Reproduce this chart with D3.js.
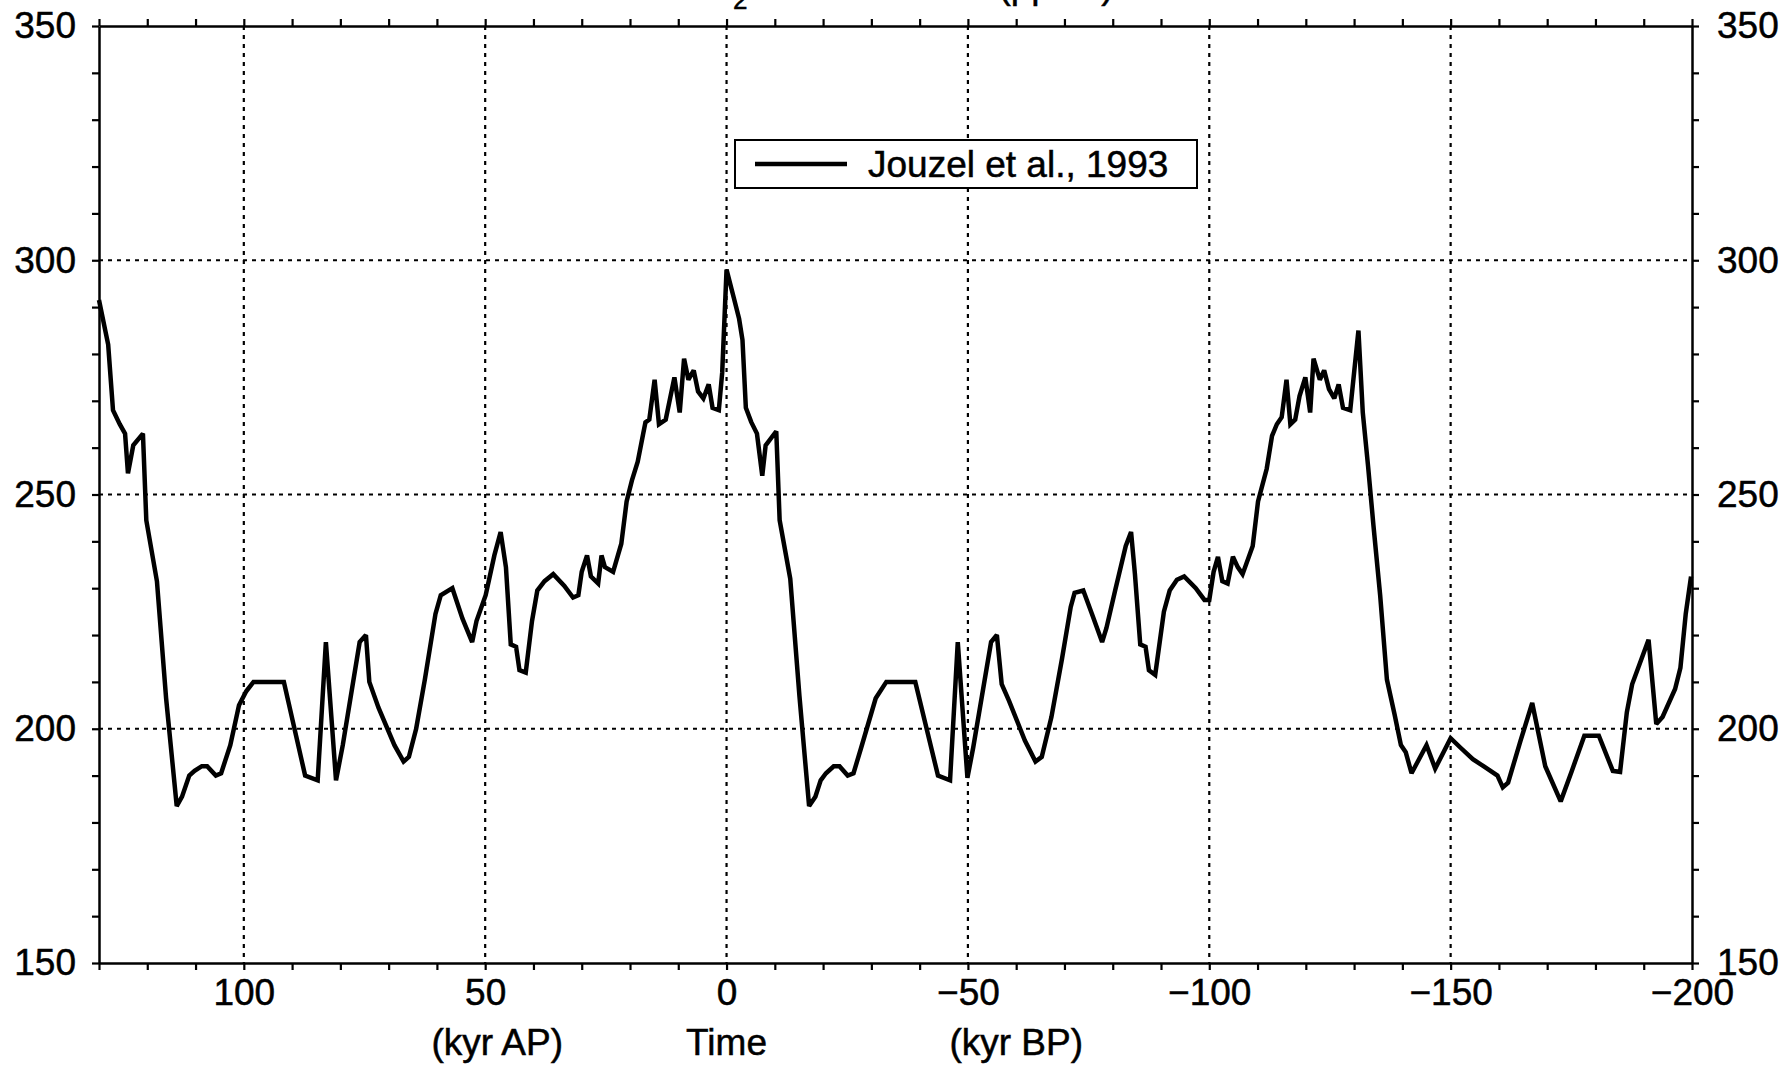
<!DOCTYPE html>
<html>
<head>
<meta charset="utf-8">
<script src="https://cdn.jsdelivr.net/npm/d3@7"></script>
<style>
  body { margin: 0; background: #fff; }
  text { font-family: "Liberation Sans", Arial, Helvetica, sans-serif; fill: #000; stroke: #000; stroke-width: 0.5px; }
</style>
</head>
<body>
<div id="d3-container"></div>
<script>
// time in kyr (positive = after present, negative = before present)
const timeKyr = [
  130, 128.1, 127.1, 125.7, 124.6, 124.0, 122.9, 120.9, 120.2, 118.0,
  116.1, 113.9, 112.8, 111.3, 110.2, 108.7, 107.6, 105.8, 104.7, 102.8,
  101.0, 99.5, 98.0, 91.7, 87.3, 84.7, 83.0, 80.9, 79.5, 76.0,
  74.7, 74.0, 72.1, 68.8, 66.9, 65.8, 64.3, 62.5, 60.3, 59.2,
  56.8, 54.7, 52.7, 51.8, 49.9, 48.1, 46.8, 45.7, 44.7, 43.6,
  42.9, 41.6, 40.3, 39.2, 37.7, 35.9, 33.6, 31.8, 30.7, 30.0,
  28.9, 28.1, 26.6, 25.9, 25.2, 23.5, 21.8, 20.7, 19.6, 18.4,
  17.3, 16.8, 16.0, 14.9, 14.0, 12.6, 10.8, 9.7, 8.8, 7.9,
  6.8, 5.9, 4.8, 3.7, 2.9, 1.6, 0.9, 0, -1.5, -2.6,
  -3.3, -4.0, -5.1, -6.3, -7.4, -8.1, -10.3, -11.0, -13.2, -15.1,
  -17.1, -18.4, -19.5, -20.6, -22.2, -23.4, -25.1, -26.3, -27.9, -30.9,
  -33.1, -39.1, -43.8, -46.3, -47.9, -49.9, -51.1, -54.8, -56.0, -57.0,
  -58.5, -61.8, -64.0, -65.3, -67.3, -69.5, -71.3, -72.1, -73.9, -75.7,
  -77.8, -78.7, -80.5, -82.7, -83.8, -84.6, -85.7, -86.8, -87.5, -88.8,
  -90.6, -91.8, -93.3, -94.8, -97.2, -99.0, -100.0, -100.9, -101.8, -102.7,
  -103.8, -104.9, -105.9, -106.9, -109.0, -110.1, -111.9, -113.0, -114.0, -115.0,
  -116.0, -116.8, -117.8, -118.7, -119.9, -120.9, -121.6, -122.9, -123.8, -124.8,
  -125.9, -126.8, -127.7, -129.2, -130.9, -131.8, -132.9, -134.0, -135.4, -136.8,
  -138.4, -139.7, -140.7, -141.9, -143.2, -145.0, -146.8, -150.0, -152.0, -154.6,
  -156.8, -159.7, -160.8, -161.9, -164.5, -166.9, -169.6, -172.8, -175.1, -177.7,
  -180.7, -183.6, -185.1, -186.5, -187.6, -191.0, -192.6, -193.9, -196.5, -197.6,
  -198.7, -199.8
];

// CO2 (ppmv)
const co2 = [
  291.5, 282, 268, 265, 263, 254.5, 260.5, 263, 244.5, 231.5,
  206.5, 183.5, 185.5, 190, 191, 192, 192, 190, 190.5, 196.5,
  205, 208, 210, 210, 190, 189, 218.5, 189, 196.5, 218.5,
  220, 210, 204.5, 196.5, 193, 194, 200, 210.5, 224.5, 228.5,
  230, 223.5, 218.5, 223, 228.5, 237, 242, 234.5, 218, 217.5,
  212.5, 212, 223, 229.5, 231.5, 233, 230.5, 228, 228.5, 233.5,
  237, 232.5, 231, 237, 234.5, 233.5, 239.5, 248.5, 253, 257,
  262.8, 265.4, 266, 274.5, 265, 266, 275, 267.5, 279, 274.5,
  276.5, 272, 270.5, 273.5, 268.5, 268, 276, 298, 292, 287.5,
  283, 268.5, 265.5, 263, 254, 260.5, 263.5, 244.5, 232, 207,
  183.5, 185.5, 189, 190.5, 192, 192, 190, 190.5, 196, 206.5,
  210, 210, 190, 189, 218.5, 189.5, 196, 218.5, 220, 209.5,
  206, 197.5, 193, 194, 202.5, 215, 226, 229, 229.5, 224.5,
  218.5, 221.5, 229.5, 239, 242, 233, 218, 217.5, 212.5, 211.5,
  225, 229.5, 231.8, 232.5, 230, 227.5, 227.5, 233.5, 236.7, 231.5,
  231, 236.7, 234.5, 233, 239, 248.5, 255.5, 262.5, 265, 266.5,
  274.5, 265, 266, 271, 275, 267.5, 279, 274.5, 276.5, 272.5,
  270.5, 273.5, 268.5, 268, 285, 267.5, 256, 243.5, 228.5, 210.5,
  203, 196.5, 195, 190.5, 193, 196.5, 191.5, 198, 196, 193.5,
  192, 190, 187.5, 188.5, 197.5, 205.5, 192, 184.5, 191, 198.5,
  198.5, 191, 190.8, 203.5, 209.5, 219, 201, 202.5, 208.5, 213,
  224.5, 232.5
];

const xTicks = d3.range(130, -201, -10);
const yTicks = d3.range(150, 351, 10);
const xGrid = [100, 50, 0, -50, -100, -150];
const yGrid = [300, 250, 200];
const seriesName = 'Jouzel et al., 1993';

const W = 1788, H = 1067;
const plotLeft = 99, plotRight = 1692, plotTop = 26, plotBottom = 963;

const svg = d3.select('#d3-container')
  .append('svg')
  .attr('width', W)
  .attr('height', H);

const x = d3.scaleLinear()
  .domain([130, -200])
  .range([plotLeft, plotRight]);

const y = d3.scaleLinear()
  .domain([150, 350])
  .range([plotBottom, plotTop]);

const fmt = d => d < 0 ? '\u2212' + Math.abs(d) : String(d);
const major = d => d % 50 === 0 ? fmt(d) : '';

// title (cut off at the top edge, as in the scan)
const title = svg.append('text')
  .attr('x', (plotLeft + plotRight) / 2)
  .attr('y', -2)
  .attr('text-anchor', 'middle')
  .attr('font-size', '37px');
title.append('tspan').text('CO');
title.append('tspan').attr('font-size', '26px').attr('dy', 11).text('2');
title.append('tspan').attr('dy', -11).text(' Concentration (ppmv)');

// grid
svg.append('g')
  .selectAll('line')
  .data(xGrid)
  .join('line')
  .attr('x1', d => x(d)).attr('x2', d => x(d))
  .attr('y1', plotTop).attr('y2', plotBottom)
  .attr('stroke', '#000')
  .attr('stroke-width', 2.2)
  .attr('stroke-dasharray', '4,5');

svg.append('g')
  .selectAll('line')
  .data(yGrid)
  .join('line')
  .attr('x1', plotLeft).attr('x2', plotRight)
  .attr('y1', d => y(d)).attr('y2', d => y(d))
  .attr('stroke', '#000')
  .attr('stroke-width', 2.2)
  .attr('stroke-dasharray', '4,5');

function styleAxis(g) {
  g.attr('font-size', '37px')
    .attr('font-family', '"Liberation Sans", Arial, Helvetica, sans-serif');
  g.select('.domain').attr('stroke-width', 2.5);
  g.selectAll('.tick line').attr('stroke-width', 2.2);
  g.selectAll('.tick text').attr('fill', '#000');
}

svg.append('g')
  .attr('transform', `translate(0,${plotBottom})`)
  .call(d3.axisBottom(x).tickValues(xTicks).tickSize(7).tickSizeOuter(0).tickPadding(9).tickFormat(major))
  .call(styleAxis);

svg.append('g')
  .attr('transform', `translate(0,${plotTop})`)
  .call(d3.axisTop(x).tickValues(xTicks).tickSize(7).tickSizeOuter(0).tickFormat(''))
  .call(styleAxis);

svg.append('g')
  .attr('transform', `translate(${plotLeft},0)`)
  .call(d3.axisLeft(y).tickValues(yTicks).tickSize(7).tickSizeOuter(0).tickPadding(16).tickFormat(major))
  .call(styleAxis);

svg.append('g')
  .attr('transform', `translate(${plotRight},0)`)
  .call(d3.axisRight(y).tickValues(yTicks).tickSize(7).tickSizeOuter(0).tickPadding(18).tickFormat(major))
  .call(styleAxis);

// curve
const line = d3.line()
  .x(d => x(d[0]))
  .y(d => y(d[1]));

svg.append('path')
  .datum(d3.zip(timeKyr, co2))
  .attr('d', line)
  .attr('fill', 'none')
  .attr('stroke', '#000')
  .attr('stroke-width', 4.5)
  .attr('stroke-linejoin', 'miter')
  .attr('stroke-miterlimit', 2.5);

// legend
const legend = svg.append('g');
legend.append('rect')
  .attr('x', 735).attr('y', 140)
  .attr('width', 462).attr('height', 48)
  .attr('fill', '#fff')
  .attr('stroke', '#000')
  .attr('stroke-width', 2);
legend.append('line')
  .attr('x1', 755).attr('x2', 847)
  .attr('y1', 164).attr('y2', 164)
  .attr('stroke', '#000')
  .attr('stroke-width', 4.5);
legend.append('text')
  .attr('x', 868).attr('y', 177)
  .attr('font-size', '37px')
  .text(seriesName);

// bottom captions
const captions = [
  { t: 50 - 2.5, s: '(kyr AP)' },
  { t: 0, s: 'Time' },
  { t: -60, s: '(kyr BP)' }
];
svg.append('g')
  .selectAll('text')
  .data(captions)
  .join('text')
  .attr('x', d => x(d.t))
  .attr('y', 1055)
  .attr('text-anchor', 'middle')
  .attr('font-size', '37px')
  .text(d => d.s);
</script>
</body>
</html>
